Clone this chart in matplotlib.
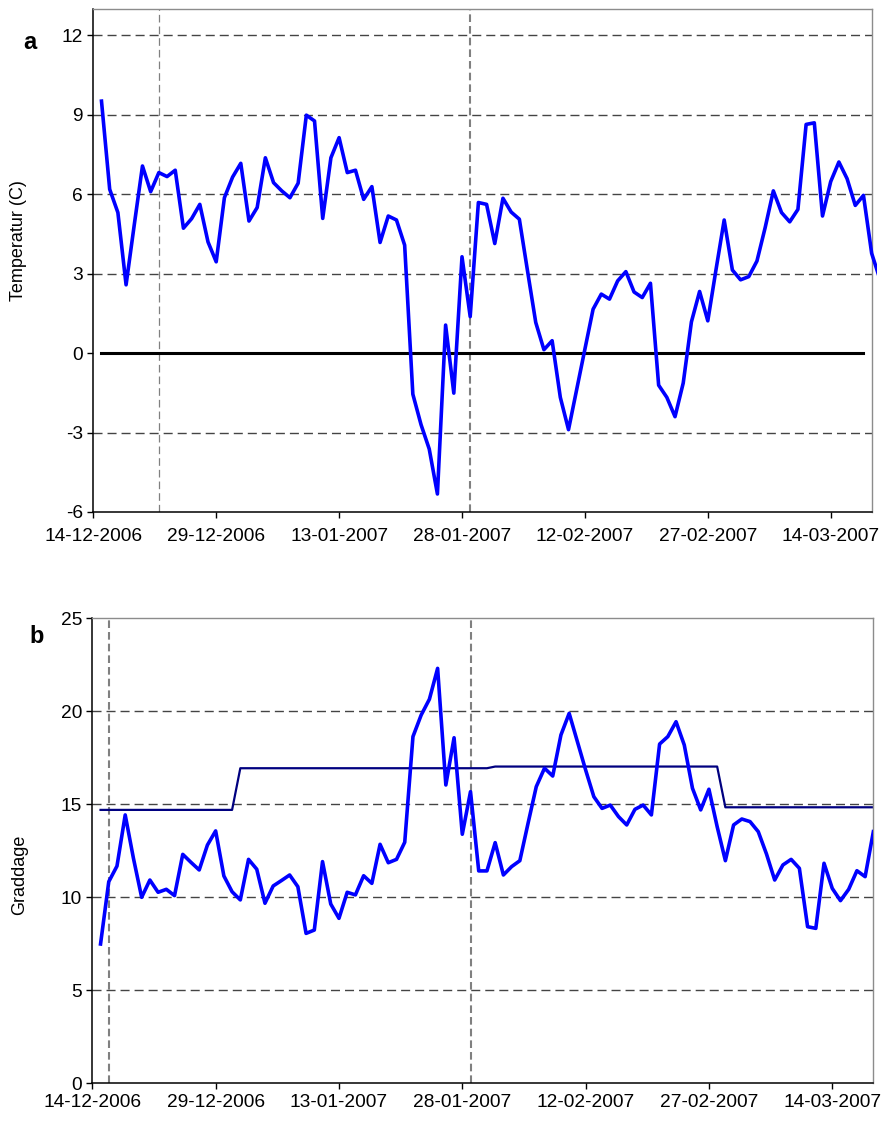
import matplotlib
matplotlib.use("Agg")
import matplotlib.pyplot as plt
import matplotlib.dates as mdates
from matplotlib.transforms import Bbox, TransformedBbox
import pandas as pd

plt.rcParams['font.family'] = ['Liberation Sans', 'DejaVu Sans']
plt.rcParams['lines.scale_dashes'] = False
plt.rcParams['axes.unicode_minus'] = False

# daily mean temperature (C), first day 15-12-2006
temp_start = '2006-12-15'
temperatur = [9.52, 6.19, 5.31, 2.58, 4.85, 7.07, 6.10, 6.82, 6.67, 6.91,
              4.72, 5.08, 5.62, 4.20, 3.45, 5.87, 6.65, 7.17, 4.99, 5.50,
              7.38, 6.44, 6.13, 5.87, 6.42, 8.99, 8.77, 5.09, 7.38, 8.14,
              6.82, 6.91, 5.81, 6.29, 4.18, 5.18, 5.03, 4.08, -1.55, -2.70,
              -3.62, -5.32, 1.06, -1.51, 3.64, 1.38, 5.69, 5.62, 4.14, 5.85,
              5.33, 5.06, 3.10, 1.16, 0.13, 0.47, -1.67, -2.89, -1.37, 0.15,
              1.66, 2.23, 2.04, 2.73, 3.08, 2.31, 2.10, 2.64, -1.21, -1.67,
              -2.40, -1.13, 1.18, 2.33, 1.22, 3.15, 5.03, 3.14, 2.77, 2.89,
              3.48, 4.74, 6.13, 5.31, 4.96, 5.43, 8.64, 8.70, 5.18, 6.48,
              7.22, 6.59, 5.58, 5.96, 3.77, 2.80]

# graddage per day, same start day
graddage = [7.49, 10.84, 11.68, 14.43, 12.10, 10.00, 10.93, 10.27, 10.43, 10.09,
            12.31, 11.88, 11.47, 12.81, 13.57, 11.15, 10.30, 9.86, 12.04, 11.51,
            9.68, 10.61, 10.90, 11.20, 10.57, 8.06, 8.24, 11.92, 9.64, 8.87,
            10.27, 10.13, 11.16, 10.75, 12.85, 11.86, 12.04, 12.96, 18.64, 19.80,
            20.65, 22.31, 16.04, 18.58, 13.39, 15.68, 11.42, 11.42, 12.94, 11.20,
            11.65, 11.97, 13.98, 15.95, 16.94, 16.52, 18.73, 19.89, 18.37, 16.85,
            15.41, 14.78, 14.96, 14.34, 13.89, 14.73, 14.96, 14.43, 18.24, 18.64,
            19.44, 18.19, 15.86, 14.70, 15.81, 13.80, 11.97, 13.89, 14.21, 14.07,
            13.53, 12.33, 10.93, 11.74, 12.04, 11.56, 8.42, 8.33, 11.83, 10.48,
            9.82, 10.43, 11.43, 11.11, 13.53]

# normal graddage for each month
normal_months = [12, 1, 2, 3]
normal_values = [14.70, 16.94, 17.03, 14.84]

zero_end = '2007-03-18'
marks_a = ['2006-12-22', '2007-01-29']
marks_b = ['2006-12-16', '2007-01-29']
x_ticks = ['2006-12-14', '2006-12-29', '2007-01-13', '2007-01-28',
           '2007-02-12', '2007-02-27', '2007-03-14']
x_range = ['2006-12-14', '2007-03-19']
yticks_a = [-6, -3, 0, 3, 6, 9, 12]
yticks_b = [0, 5, 10, 15, 20, 25]

t_dates = pd.date_range(temp_start, periods=len(temperatur), freq='D')
g_dates = pd.date_range(temp_start, periods=len(graddage), freq='D')
norm = dict(zip(normal_months, normal_values))
normal_line = [norm[d.month] for d in g_dates]
zero_dates = pd.date_range(temp_start, zero_end, freq='D')

fig = plt.figure(figsize=(8.92, 11.24), dpi=100)
axA = fig.add_axes([0.1046, 0.5445, 0.8726, 0.4475])
axB = fig.add_axes([0.1035, 0.0362, 0.8756, 0.4137])

blue = '#0000ff'
grid_style = dict(color='#444444', lw=1.0, ls=(0, (6.5, 3.6)), zorder=1)


def style_axes(ax, yticks, ylim, xpad):
    ax.set_xlim(pd.Timestamp(x_range[0]), pd.Timestamp(x_range[1]))
    ax.set_ylim(*ylim)
    ax.set_yticks(yticks)
    ax.set_xticks([pd.Timestamp(d) for d in x_ticks])
    ax.xaxis.set_major_formatter(mdates.DateFormatter('%d-%m-%Y'))
    for s in ['left', 'bottom']:
        ax.spines[s].set_color('black')
        ax.spines[s].set_linewidth(1.1)
    for s in ['top', 'right']:
        ax.spines[s].set_color('#8c8c8c')
        ax.spines[s].set_linewidth(1.0)
    ax.tick_params(direction='out', length=4.5, width=1.0, labelsize=13.8, top=False, right=False)
    ax.tick_params(axis='y', pad=3)
    ax.tick_params(axis='x', pad=xpad)


# a: temperature
style_axes(axA, yticks_a, (-6, 13), 7)
for v in [-3, 3, 6, 9, 12]:
    axA.axhline(v, **grid_style)
axA.axvline(pd.Timestamp(marks_a[0]), color='#808080', lw=0.9, ls=(0, (5.5, 2.9)), zorder=1)
axA.axvline(pd.Timestamp(marks_a[1]), color='#808080', lw=1.5, ls=(0, (5.5, 2.9)), zorder=1)
axA.plot(zero_dates, [0] * len(zero_dates), color='black', lw=2.2, zorder=2)
ln, = axA.plot(t_dates, temperatur, color=blue, lw=2.6, zorder=3)
ln.set_clip_box(TransformedBbox(Bbox([[0, 0], [1.007, 1]]), axA.transAxes))
axA.set_ylabel('Temperatur (C)', fontsize=13)
axA.yaxis.set_label_coords(-0.085, 0.54)

# b: graddage
style_axes(axB, yticks_b, (0, 25), 3.5)
for v in [5, 10, 15, 20]:
    axB.axhline(v, **grid_style)
for d in marks_b:
    axB.axvline(pd.Timestamp(d), color='#808080', lw=1.5, ls=(0, (5.5, 2.9)), zorder=1)
axB.plot(g_dates, normal_line, color='#000080', lw=1.6, zorder=2)
axB.plot(g_dates, graddage, color=blue, lw=2.6, zorder=3)
axB.set_ylabel('Graddage', fontsize=13)
axB.yaxis.set_label_coords(-0.082, 0.448)

fig.text(0.0336, 0.9626, 'a', fontsize=17, fontweight='bold', ha='center', va='center')
fig.text(0.0415, 0.4333, 'b', fontsize=17, fontweight='bold', ha='center', va='center')

fig.savefig('out.png', dpi=100)
